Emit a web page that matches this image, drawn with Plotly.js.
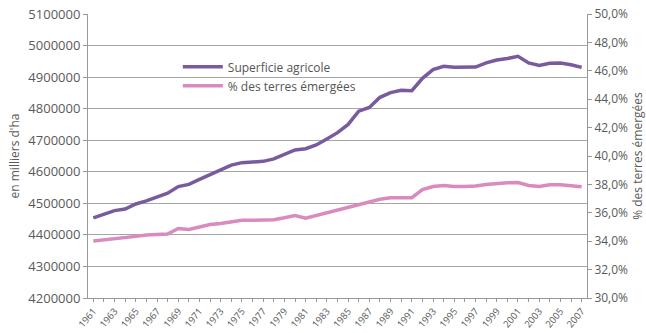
<!DOCTYPE html>
<html>
<head>
<meta charset="utf-8">
<script src="https://cdn.plot.ly/plotly-3.0.1.min.js"></script>
<style>html,body{margin:0;padding:0;background:#fff;}#chart{width:646px;height:333px;}</style>
</head>
<body>
<div id="chart"></div>
<script>
const years = [1961,1962,1963,1964,1965,1966,1967,1968,1969,1970,1971,1972,1973,1974,1975,1976,1977,1978,1979,1980,1981,1982,1983,1984,1985,1986,1987,1988,1989,1990,1991,1992,1993,1994,1995,1996,1997,1998,1999,2000,2001,2002,2003,2004,2005,2006,2007];
const superficieAgricole = [4454000,4467000,4477000,4482000,4498000,4508000,4519000,4532000,4553000,4560000,4576000,4592000,4607000,4621000,4629000,4630000,4633000,4641000,4655000,4669000,4673000,4685000,4704000,4724000,4750000,4792000,4804000,4836000,4851000,4858000,4857000,4896000,4924000,4934000,4931000,4931000,4932000,4945000,4954000,4959000,4966000,4945000,4937000,4944000,4945000,4939000,4931000];
const pctTerresEmergees = [34.02,34.09,34.18,34.27,34.34,34.44,34.48,34.51,34.90,34.83,35.00,35.18,35.25,35.34,35.48,35.47,35.46,35.51,35.65,35.81,35.62,35.81,35.97,36.20,36.39,36.60,36.78,36.95,37.06,37.09,37.06,37.64,37.85,37.92,37.85,37.85,37.88,38.00,38.08,38.11,38.13,37.92,37.85,37.97,37.97,37.92,37.83];
const seriesNames = ["Superficie agricole", "% des terres émergées"];

const font = "Open Sans, Noto Sans, sans-serif";
const grey = "#5a5a5a";

const traces = [
  {x: years, y: superficieAgricole, name: seriesNames[0], type: "scatter", mode: "lines",
   line: {color: "#7a5a9e", width: 3.5}, yaxis: "y"},
  {x: years, y: pctTerresEmergees, name: seriesNames[1], type: "scatter", mode: "lines",
   line: {color: "#d98abf", width: 3.5}, yaxis: "y2"}
];

const layout = {
  width: 646, height: 333,
  margin: {l: 88, r: 59, t: 14, b: 35, pad: 0},
  paper_bgcolor: "#fff", plot_bgcolor: "#fff",
  separators: ", ",
  font: {family: font, size: 12, color: grey},
  showlegend: true,
  legend: {x: 0.18, y: 0.865, xanchor: "left", yanchor: "top", bgcolor: "rgba(0,0,0,0)",
           font: {family: font, size: 12, color: "#555"}, tracegroupgap: 0, itemwidth: 40},
  xaxis: {
    range: [1960.5, 2007.5], tick0: 1961, dtick: 2, tickangle: -50,
    showgrid: false, zeroline: false, showline: true, linecolor: "#999", linewidth: 1,
    ticks: "outside", ticklen: 3, tickcolor: "#999",
    minor: {dtick: 1, ticks: "outside", ticklen: 3, tickcolor: "#999"},
    tickfont: {family: font, size: 9.5, color: grey}
  },
  yaxis: {
    range: [4200000, 5100000], dtick: 100000, tickformat: "d",
    showgrid: true, gridcolor: "#a6a6a6", gridwidth: 1, zeroline: false,
    showline: true, linecolor: "#999", linewidth: 1,
    ticks: "outside", ticklen: 4, tickcolor: "#999",
    tickfont: {family: font, size: 13, color: grey},
    title: {text: "en milliers d'ha", font: {family: font, size: 12, color: grey}, standoff: 6}
  },
  yaxis2: {
    overlaying: "y", side: "right",
    range: [30, 50], dtick: 2, tickformat: ".1f", ticksuffix: "%",
    showgrid: false, zeroline: false, showline: true, linecolor: "#999", linewidth: 1,
    ticks: "outside", ticklen: 4, tickcolor: "#999",
    tickfont: {family: font, size: 12, color: grey},
    title: {text: "% des terres émergées", font: {family: font, size: 12, color: grey}, standoff: 6}
  }
};

Plotly.newPlot("chart", traces, layout, {displayModeBar: false, staticPlot: true});
</script>
</body>
</html>
